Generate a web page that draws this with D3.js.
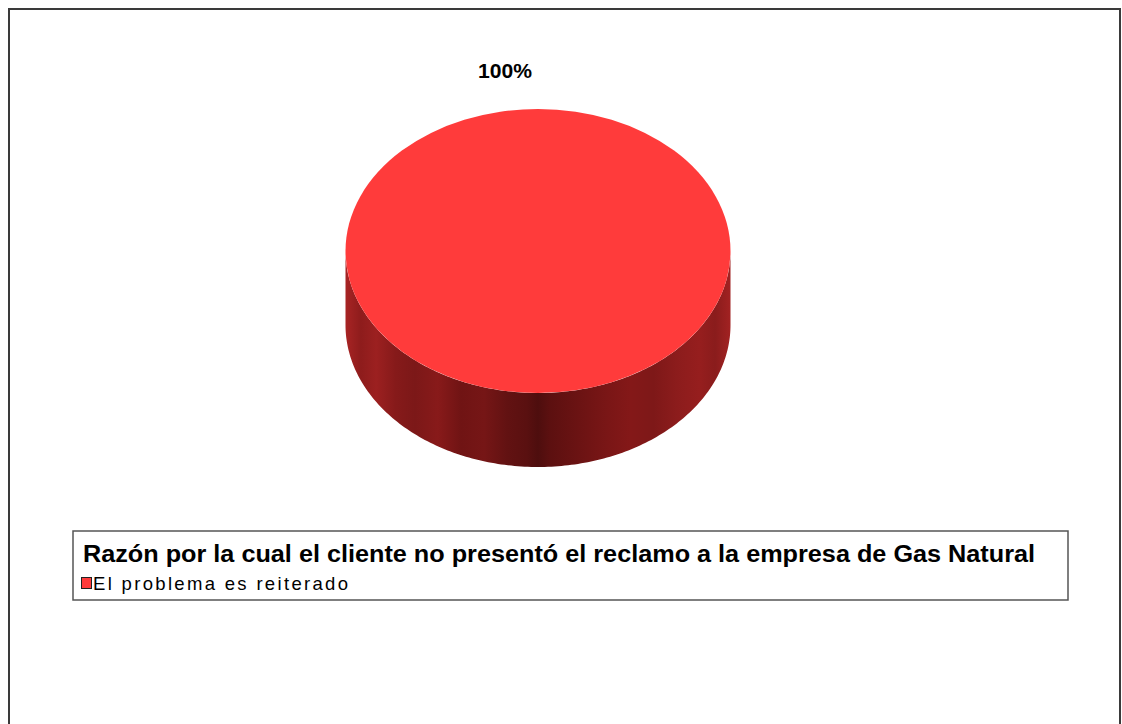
<!DOCTYPE html>
<html>
<head>
<meta charset="utf-8">
<script src="https://cdn.jsdelivr.net/npm/d3@7"></script>
<style>
  html, body { margin: 0; padding: 0; background: #ffffff; }
  svg { display: block; }
</style>
</head>
<body>
<svg id="chart" width="1122" height="724"></svg>
<script>
// Survey result: reason the customer did not file the complaint
const categories = ["El problema es reiterado"];
const values = [100];
const valueLabels = ["100%"];
const legendTitle = "Razón por la cual el cliente no presentó el reclamo a la empresa de Gas Natural";
const colors = ["#ff3b3b"];

const svg = d3.select("#chart");

// outer chart frame
svg.append("rect")
  .attr("x", 9).attr("y", 9)
  .attr("width", 1111).attr("height", 730)
  .attr("fill", "#fff")
  .attr("stroke", "#3a3a3a").attr("stroke-width", 2);

// 3-D pie geometry
const cx = 538, cy = 251, rx = 192.5, ry = 142, depth = 74;

const pie = d3.pie().sort(null).value(d => d);
const slices = pie(values);

const defs = svg.append("defs");

// banded shading for the cylinder wall: darkest at the front, lighter at the sides
const sideStops = [
  [0.00, "#a82424"], [0.04, "#8e1c1c"], [0.08, "#9c2020"], [0.13, "#861a1a"],
  [0.18, "#7c1818"], [0.24, "#881a1a"], [0.30, "#701414"], [0.36, "#761616"],
  [0.42, "#621212"], [0.47, "#5a1010"], [0.50, "#4e0e0e"], [0.53, "#5c1010"],
  [0.58, "#661212"], [0.63, "#701414"], [0.68, "#7a1616"], [0.74, "#841818"],
  [0.80, "#7e1818"], [0.86, "#8c1c1c"], [0.92, "#961e1e"], [0.96, "#8a1c1c"],
  [1.00, "#a22222"]
];
const grad = defs.append("linearGradient")
  .attr("id", "sideGrad")
  .attr("gradientUnits", "userSpaceOnUse")
  .attr("x1", cx - rx).attr("x2", cx + rx)
  .attr("y1", 0).attr("y2", 0);
grad.selectAll("stop").data(sideStops).join("stop")
  .attr("offset", d => d[0])
  .attr("stop-color", d => d[1]);

// wall: front half of the ellipse, extruded downward
const ellX = a => cx + rx * Math.cos(a);
const ellY = a => cy + ry * Math.sin(a);
const steps = d3.range(0, 181).map(i => Math.PI * i / 180);
const line = d3.line();
const topEdge = steps.map(a => [ellX(a), ellY(a)]);
const botEdge = steps.slice().reverse().map(a => [ellX(a), ellY(a) + depth]);
svg.append("path")
  .attr("d", line(topEdge.concat(botEdge)) + "Z")
  .attr("fill", "url(#sideGrad)");

// top face drawn from the pie layout, flattened into an ellipse
const arc = d3.arc().innerRadius(0).outerRadius(rx);
svg.append("g")
  .attr("transform", `translate(${cx},${cy}) scale(1,${ry / rx})`)
  .selectAll("path")
  .data(slices)
  .join("path")
  .attr("d", arc)
  .attr("fill", (d, i) => colors[i]);

// value label above the pie
svg.selectAll("text.val")
  .data(slices)
  .join("text")
  .attr("class", "val")
  .attr("x", 478)
  .attr("y", 78)
  .attr("font-family", "Liberation Sans, Arial, sans-serif")
  .attr("font-weight", "bold")
  .attr("font-size", 20)
  .attr("textLength", 54)
  .attr("lengthAdjust", "spacingAndGlyphs")
  .attr("fill", "#000")
  .text((d, i) => valueLabels[i]);

// legend box
const lg = svg.append("g");
lg.append("rect")
  .attr("x", 73).attr("y", 531)
  .attr("width", 995).attr("height", 69)
  .attr("fill", "#fff")
  .attr("stroke", "#555").attr("stroke-width", 1.5);

lg.append("text")
  .attr("x", 83).attr("y", 562)
  .attr("font-family", "Liberation Sans, Arial, sans-serif")
  .attr("font-weight", "bold")
  .attr("font-size", 23)
  .attr("textLength", 952)
  .attr("lengthAdjust", "spacingAndGlyphs")
  .attr("fill", "#000")
  .text(legendTitle);

const items = lg.selectAll("g.item")
  .data(categories)
  .join("g")
  .attr("class", "item")
  .attr("transform", (d, i) => `translate(81,${577 + i * 16})`);
items.append("rect")
  .attr("x", 0.5).attr("y", 0.5)
  .attr("width", 10).attr("height", 11)
  .attr("fill", (d, i) => colors[i])
  .attr("stroke", "#222").attr("stroke-width", 1);
items.append("text")
  .attr("x", 12).attr("y", 12.5)
  .attr("font-family", "Liberation Sans, Arial, sans-serif")
  .attr("font-size", 18.5)
  .attr("textLength", 255)
  .attr("lengthAdjust", "spacing")
  .attr("fill", "#000")
  .text(d => d);
</script>
</body>
</html>
